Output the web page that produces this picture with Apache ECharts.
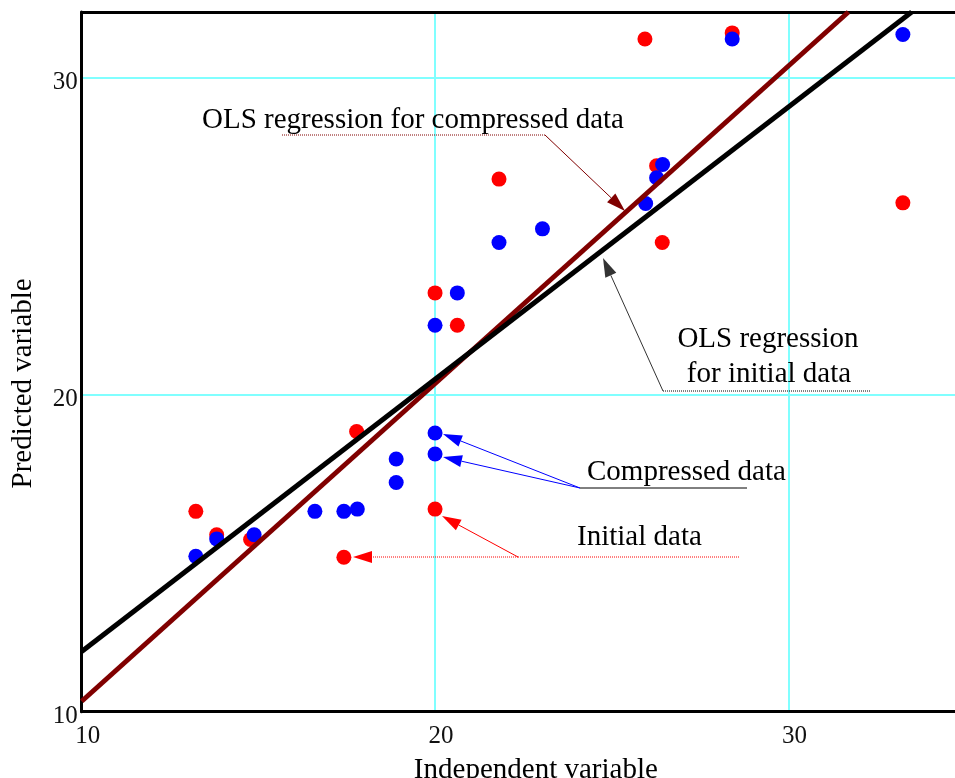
<!DOCTYPE html>
<html>
<head>
<meta charset="utf-8">
<script src="https://cdn.jsdelivr.net/npm/echarts@6/dist/echarts.min.js"></script>
<style>
  html, body { margin: 0; padding: 0; background: #fff; }
  #chart { width: 955px; height: 778px; }
</style>
</head>
<body>
<div id="chart"></div>
<script>
// initial data (red) and compressed data (blue)
const initialX = [13.23, 13.82, 14.78, 17.42, 17.78, 20.0, 20.0, 20.63, 21.81, 25.94, 26.27, 26.43, 28.41, 33.24];
const initialY = [16.32, 15.58, 15.43, 14.87, 18.84, 16.39, 23.21, 22.19, 26.80, 31.22, 27.22, 24.80, 31.41, 26.05];
const compressedX = [13.23, 13.82, 14.88, 16.6, 17.42, 17.8, 18.9, 18.9, 20.0, 20.0, 20.0, 20.63, 21.81, 23.04, 25.96, 26.27, 26.44, 28.41, 33.24];
const compressedY = [14.90, 15.45, 15.58, 16.32, 16.32, 16.39, 17.97, 17.23, 18.79, 18.13, 22.19, 23.21, 24.80, 25.23, 26.03, 26.84, 27.26, 31.22, 31.36];

// regression lines, end points as seen in the picture
const olsInitialX = [10, 33.49];
const olsInitialY = [11.90, 32.07];
const olsCompressedX = [10, 31.70];
const olsCompressedY = [10.33, 32.07];

const xTicks = [10, 20, 30];
const yTicks = [10, 20, 30];

const zip = (xs, ys) => xs.map((x, i) => [x, ys[i]]);

const serif = '"Liberation Serif", "Times New Roman", serif';
const gridColor = "#80ffff";

// small arrow: thin shaft plus filled head at (x2, y2)
function arrow(x1, y1, x2, y2, color, dash) {
  const dx = x2 - x1, dy = y2 - y1;
  const L = Math.hypot(dx, dy);
  const ux = dx / L, uy = dy / L;
  const len = 19, hw = 6;
  const bx = x2 - ux * len, by = y2 - uy * len;
  return [
    {
      type: "line",
      z: 100,
      shape: { x1: x1, y1: y1, x2: bx, y2: by },
      style: { stroke: color, lineWidth: 1, lineDash: dash || null },
    },
    {
      type: "polygon",
      z: 100,
      shape: {
        points: [
          [x2, y2],
          [bx - uy * hw, by + ux * hw],
          [bx + uy * hw, by - ux * hw],
        ],
      },
      style: { fill: color },
    },
  ];
}

function hline(x1, x2, y, color, dash) {
  return {
    type: "line",
    z: 100,
    shape: { x1: x1, y1: y, x2: x2, y2: y },
    style: { stroke: color, lineWidth: 1, lineDash: dash || null },
  };
}

function label(text, x, y, align) {
  return {
    type: "text",
    z: 100,
    x: x,
    y: y,
    style: {
      text: text,
      font: "29px " + serif,
      fill: "#000",
      align: align || "left",
      verticalAlign: "middle",
    },
  };
}

const graphics = [].concat(
  // OLS regression for compressed data
  [label("OLS regression for compressed data", 202, 120)],
  [hline(282, 545, 135, "#800000", [1, 1])],
  arrow(545, 135, 625, 211, "#800000"),
  // OLS regression for initial data
  [label("OLS regression", 768, 339, "center"), label("for initial data", 769, 374, "center")],
  [hline(663, 871, 391, "#000", [1, 1])],
  arrow(663, 391, 603, 258, "#333"),
  // Compressed data
  [label("Compressed data", 587, 472)],
  [hline(580, 747, 488, "#000")],
  arrow(580, 488, 443, 434, "#0000ff"),
  arrow(580, 488, 443, 457, "#0000ff"),
  // Initial data
  [label("Initial data", 577, 537)],
  [hline(518, 739, 557, "#ff0000", [1, 1])],
  arrow(518, 557, 353, 557, "#ff0000", [1, 1]),
  arrow(518, 557, 442, 516, "#ff0000")
);

const chart = echarts.init(document.getElementById("chart"), null, { renderer: "canvas" });

chart.setOption({
  backgroundColor: "#fff",
  animation: false,
  grid: { left: 81.7, right: -3, top: 12, bottom: 66.3, containLabel: false, outerBoundsMode: "none" },
  xAxis: [
    {
      type: "value",
      min: xTicks[0],
      max: 34.8,
      interval: xTicks[1] - xTicks[0],
      name: "Independent variable",
      nameLocation: "middle",
      nameGap: 44,
      nameTextStyle: { fontFamily: serif, fontSize: 29, color: "#000", padding: [0, 0, 0, 32] },
      axisLine: { onZero: false, lineStyle: { color: "#000", width: 3 } },
      axisTick: { show: false },
      axisLabel: {
        showMaxLabel: false,
        fontFamily: serif,
        fontSize: 25,
        color: "#111",
        margin: 12,
        padding: [0, 0, 0, 12],
      },
      splitLine: { show: true, lineStyle: { color: gridColor, width: 2 } },
    },
    {
      type: "value",
      position: "top",
      min: xTicks[0],
      max: 34.8,
      interval: 10,
      axisLine: { onZero: false, lineStyle: { color: "#000", width: 3 } },
      axisTick: { show: false },
      axisLabel: { show: false },
      splitLine: { show: false },
    },
  ],
  yAxis: {
    type: "value",
    min: yTicks[0],
    max: 32.07,
    interval: yTicks[1] - yTicks[0],
    name: "Predicted variable",
    nameLocation: "middle",
    nameGap: 44,
    nameTextStyle: { fontFamily: serif, fontSize: 29, color: "#000", padding: [0, 43, 0, 0] },
    axisLine: { onZero: false, lineStyle: { color: "#000", width: 3 } },
    axisTick: { show: false },
    axisLabel: {
      showMaxLabel: false,
      margin: 4,
      formatter: "{t|{value}}",
      rich: {
        t: { fontFamily: serif, fontSize: 25, color: "#111", padding: [10, 0, 0, 0] },
      },
    },
    splitLine: { show: true, lineStyle: { color: gridColor, width: 2 } },
  },
  series: [
    {
      name: "Initial data",
      type: "scatter",
      symbol: "circle",
      symbolSize: 15,
      itemStyle: { color: "#ff0000", opacity: 1 },
      data: zip(initialX, initialY),
      z: 3,
    },
    {
      name: "Compressed data",
      type: "scatter",
      symbol: "circle",
      symbolSize: 15,
      itemStyle: { color: "#0000ff", opacity: 1 },
      data: zip(compressedX, compressedY),
      z: 4,
    },
    {
      name: "OLS compressed",
      type: "line",
      symbol: "none",
      clip: true,
      lineStyle: { color: "#800000", width: 5 },
      data: zip(olsCompressedX, olsCompressedY),
      z: 5,
    },
    {
      name: "OLS initial",
      type: "line",
      symbol: "none",
      clip: true,
      lineStyle: { color: "#000", width: 5 },
      data: zip(olsInitialX, olsInitialY),
      z: 6,
    },
  ],
  graphic: graphics,
});
</script>
</body>
</html>
